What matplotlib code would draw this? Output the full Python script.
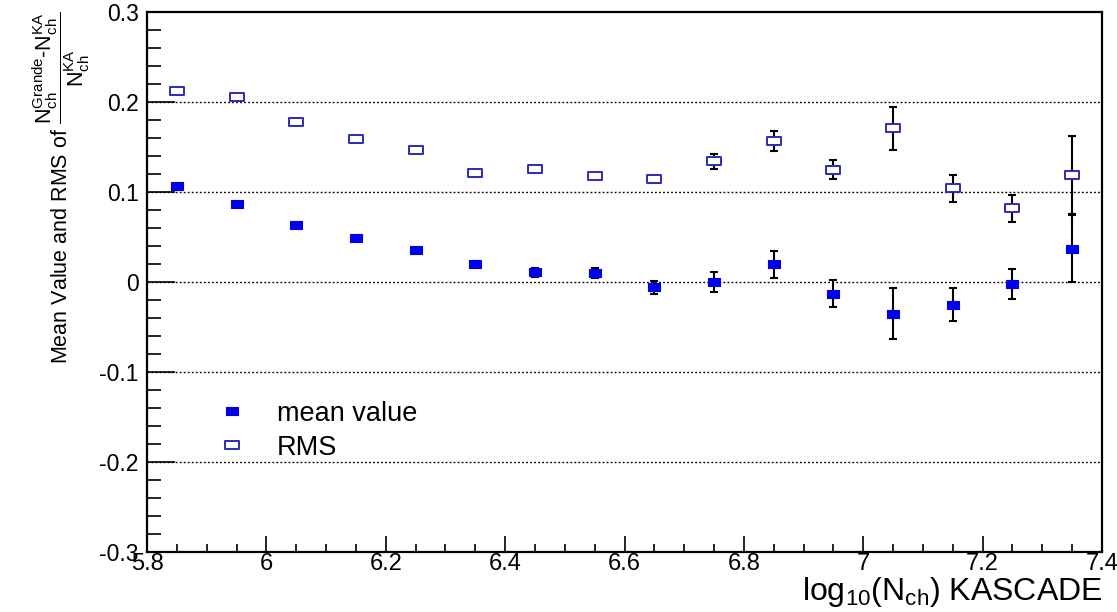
import matplotlib
matplotlib.use("Agg")
import matplotlib.pyplot as plt
from matplotlib.path import Path
from matplotlib.ticker import MultipleLocator, FuncFormatter

# log10(Nch) KASCADE bin centres
log_nch = [5.85, 5.95, 6.05, 6.15, 6.25, 6.35, 6.45, 6.55,
           6.65, 6.75, 6.85, 6.95, 7.05, 7.15, 7.25, 7.35]

mean_value = [0.107, 0.087, 0.063, 0.049, 0.036, 0.020, 0.011, 0.010,
              -0.006, 0.000, 0.020, -0.013, -0.035, -0.025, -0.002, 0.037]
mean_err = [0.002, 0.002, 0.002, 0.002, 0.002, 0.003, 0.005, 0.006,
            0.007, 0.011, 0.015, 0.015, 0.028, 0.018, 0.017, 0.037]

rms_value = [0.212, 0.206, 0.178, 0.159, 0.147, 0.121, 0.126, 0.118,
             0.114, 0.134, 0.157, 0.125, 0.171, 0.104, 0.082, 0.119]
rms_err = [0.001, 0.001, 0.001, 0.001, 0.002, 0.002, 0.003, 0.003,
           0.004, 0.008, 0.011, 0.011, 0.024, 0.015, 0.015, 0.043]

legend_labels = ["mean value", "RMS"]

plt.rcParams['font.family'] = ['Liberation Sans', 'DejaVu Sans']
plt.rcParams['mathtext.fontset'] = 'custom'
plt.rcParams['mathtext.rm'] = 'Liberation Sans'
plt.rcParams['mathtext.it'] = 'Liberation Sans'
plt.rcParams['mathtext.default'] = 'regular'
plt.rcParams['axes.unicode_minus'] = False

# flat rectangular marker like the stretched ROOT boxes
kastka = Path([(-1.5, -1), (1.5, -1), (1.5, 1), (-1.5, 1), (-1.5, -1)],
              [Path.MOVETO, Path.LINETO, Path.LINETO, Path.LINETO, Path.CLOSEPOLY])

fig = plt.figure(figsize=(11.17, 6.12), dpi=100)
ax = fig.add_axes([147 / 1117, 60 / 612, 955 / 1117, 540 / 612])

for y in [-0.2, -0.1, 0.0, 0.1, 0.2]:
    ax.axhline(y, color='black', lw=1.0, linestyle=(0, (1.3, 1.6)), zorder=1)

c_rms = ax.errorbar(log_nch, rms_value, yerr=rms_err, fmt='none', ecolor='black',
                    elinewidth=1.5, capsize=3, capthick=1.5, zorder=2)
c_mean = ax.errorbar(log_nch, mean_value, yerr=mean_err, fmt='none', ecolor='black',
                     elinewidth=1.5, capsize=3, capthick=1.5, zorder=2)
l_mean, = ax.plot(log_nch, mean_value, linestyle='none', marker=kastka, markersize=9,
                  markerfacecolor='#0000ee', markeredgecolor='#0000ee',
                  markeredgewidth=0.8, zorder=3)
l_rms, = ax.plot(log_nch, rms_value, linestyle='none', marker=kastka, markersize=9.5,
                 markerfacecolor='white', markeredgecolor='#2b2bb8',
                 markeredgewidth=1.4, zorder=3)

ax.set_xlim(5.8, 7.4)
ax.set_ylim(-0.3, 0.3)

ax.xaxis.set_major_locator(MultipleLocator(0.2))
ax.xaxis.set_minor_locator(MultipleLocator(0.05))
ax.yaxis.set_major_locator(MultipleLocator(0.1))
ax.yaxis.set_minor_locator(MultipleLocator(0.02))
fmt = FuncFormatter(lambda v, pos: f"{round(v, 2):g}")
ax.xaxis.set_major_formatter(fmt)
ax.yaxis.set_major_formatter(fmt)

ax.tick_params(axis='x', which='major', direction='in', length=11.5, width=1.2,
               labelsize=17, pad=1, top=False)
ax.tick_params(axis='x', which='minor', direction='in', length=5.8, width=1.2, top=False)
ax.tick_params(axis='y', which='major', direction='in', length=20, width=1.2,
               labelsize=16.5, pad=6, right=False)
ax.tick_params(axis='y', which='minor', direction='in', length=10, width=1.2, right=False)

for s in ax.spines.values():
    s.set_linewidth(1.6)

ax.set_xlabel(r"log$_{10}$(N$_{ch}$) KASCADE", fontsize=23, loc='right', labelpad=0)
ax.set_ylabel(r"Mean Value and RMS of "
              r"$\genfrac{}{}{1.2}{0}{N_{ch}^{Grande}\text{-}N_{ch}^{KA}}{N_{ch}^{KA}}$",
              fontsize=15.5, loc='top')
ax.yaxis.set_label_coords(-0.058, 1.0)

ax.legend([l_mean, l_rms], legend_labels, loc='upper left', bbox_to_anchor=(0.0765, 0.28),
          frameon=False, fontsize=19.5, handlelength=0.9, handletextpad=1.2,
          borderpad=0, borderaxespad=0, labelspacing=0.3)

plt.savefig("out.png", dpi=100)
